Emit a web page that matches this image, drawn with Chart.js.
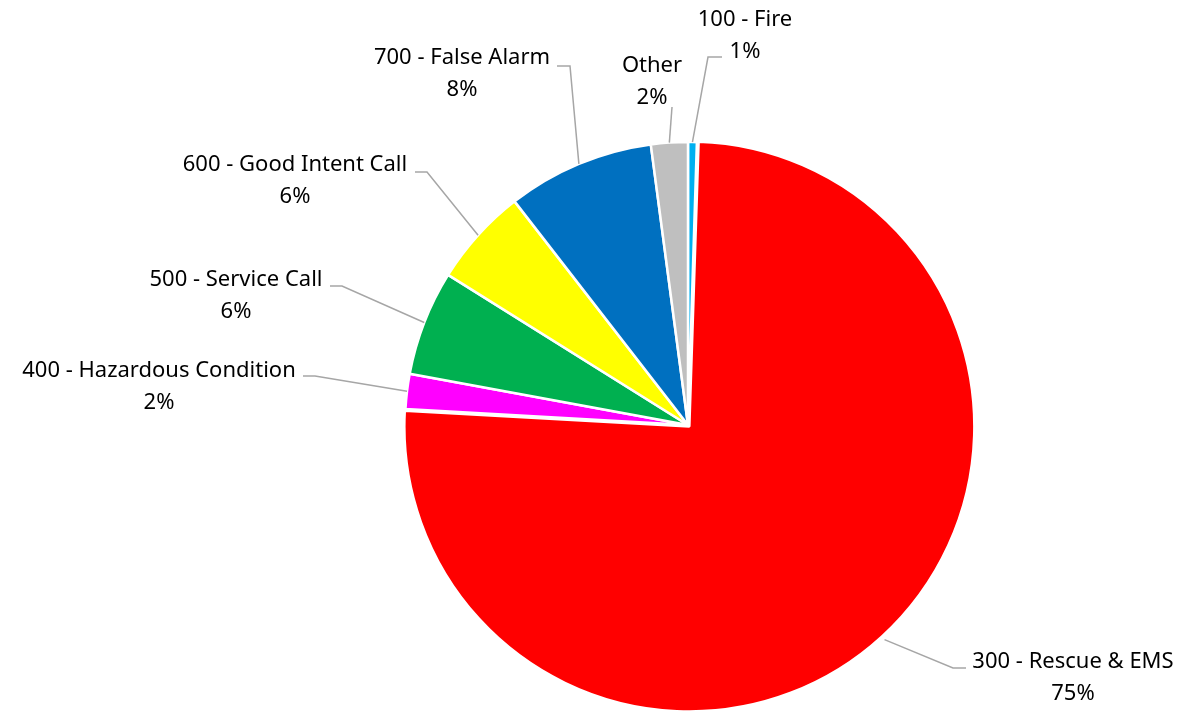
<!DOCTYPE html>
<html>
<head>
<meta charset="utf-8">
<title>Incident Types</title>
<script src="https://cdn.jsdelivr.net/npm/chart.js@4.4.1/dist/chart.umd.min.js"></script>
<style>
  html, body { margin: 0; padding: 0; background: #fff; }
  #wrap { position: relative; width: 1185px; height: 715px; }
</style>
</head>
<body>
<div id="wrap"><canvas id="pieChart"></canvas></div>
<script>
// 集計データ（％）
const categories = ['100 - Fire', '300 - Rescue & EMS', '400 - Hazardous Condition',
  '500 - Service Call', '600 - Good Intent Call', '700 - False Alarm', 'Other'];
const shares = [0.5, 75.4, 2.0, 6.0, 5.6, 8.4, 2.1];
const sliceColors = ['#00B0F0', '#FF0000', '#FF00FF', '#00B050', '#FFFF00', '#0070C0', '#BFBFBF'];

// ラベル配置（1行目ベースライン中心、折れ点、水平線の終点）
const labelSpots = [
  { x: 745, y: 26, ex: 708, ey: 57, hx: 722 },
  { x: 1073, y: 668, ex: 953, ey: 668, hx: 966 },
  { x: 159, y: 377, ex: 315, ey: 376, hx: 303 },
  { x: 236, y: 286, ex: 342, ey: 286, hx: 330 },
  { x: 295, y: 171, ex: 427, ey: 172, hx: 415 },
  { x: 462, y: 64, ex: 570, ey: 66, hx: 557 },
  { x: 652, y: 72, ex: 672, ey: 107, hx: 672 }
];

const LABEL_FONT = '22px "Noto Sans", sans-serif';
const LINE_GAP = 32;

// 引き出し線とラベル
const leaderLabels = {
  id: 'leaderLabels',
  afterDatasetsDraw(chart) {
    const ctx = chart.ctx;
    const meta = chart.getDatasetMeta(0);
    const ds = chart.data.datasets[0];
    const total = ds.data.reduce((a, b) => a + b, 0);

    meta.data.forEach((arc, i) => {
      const spot = labelSpots[i];
      if (!spot) return;
      const p = arc.getProps(['x', 'y', 'startAngle', 'endAngle', 'outerRadius'], true);
      const mid = (p.startAngle + p.endAngle) / 2;
      const off = (ds.offset && ds.offset[i]) || 0;
      const r = p.outerRadius + off;
      const sx = p.x + Math.cos(mid) * r;
      const sy = p.y + Math.sin(mid) * r;

      ctx.save();
      ctx.strokeStyle = '#A6A6A6';
      ctx.lineWidth = 1.5;
      ctx.beginPath();
      ctx.moveTo(sx, sy);
      ctx.lineTo(spot.ex, spot.ey);
      ctx.lineTo(spot.hx, spot.ey);
      ctx.stroke();

      ctx.fillStyle = '#000';
      ctx.font = LABEL_FONT;
      ctx.textAlign = 'center';
      ctx.textBaseline = 'alphabetic';
      const pct = Math.round(ds.data[i] / total * 100) + '%';
      ctx.fillText(chart.data.labels[i], spot.x, spot.y);
      ctx.fillText(pct, spot.x, spot.y + LINE_GAP);
      ctx.restore();
    });
  }
};

new Chart(document.getElementById('pieChart'), {
  type: 'pie',
  data: {
    labels: categories,
    datasets: [{
      data: shares,
      backgroundColor: sliceColors,
      borderColor: '#FFFFFF',
      borderWidth: 2.5,
      offset: [0, 8, 0, 0, 0, 0, 0]
    }]
  },
  options: {
    responsive: true,
    maintainAspectRatio: false,
    animation: false,
    devicePixelRatio: 1,
    radius: 283,
    layout: {
      padding: { left: 191, right: 0, top: 135, bottom: 0 }
    },
    plugins: {
      legend: { display: false },
      tooltip: { enabled: false }
    }
  },
  plugins: [leaderLabels]
});
</script>
</body>
</html>
